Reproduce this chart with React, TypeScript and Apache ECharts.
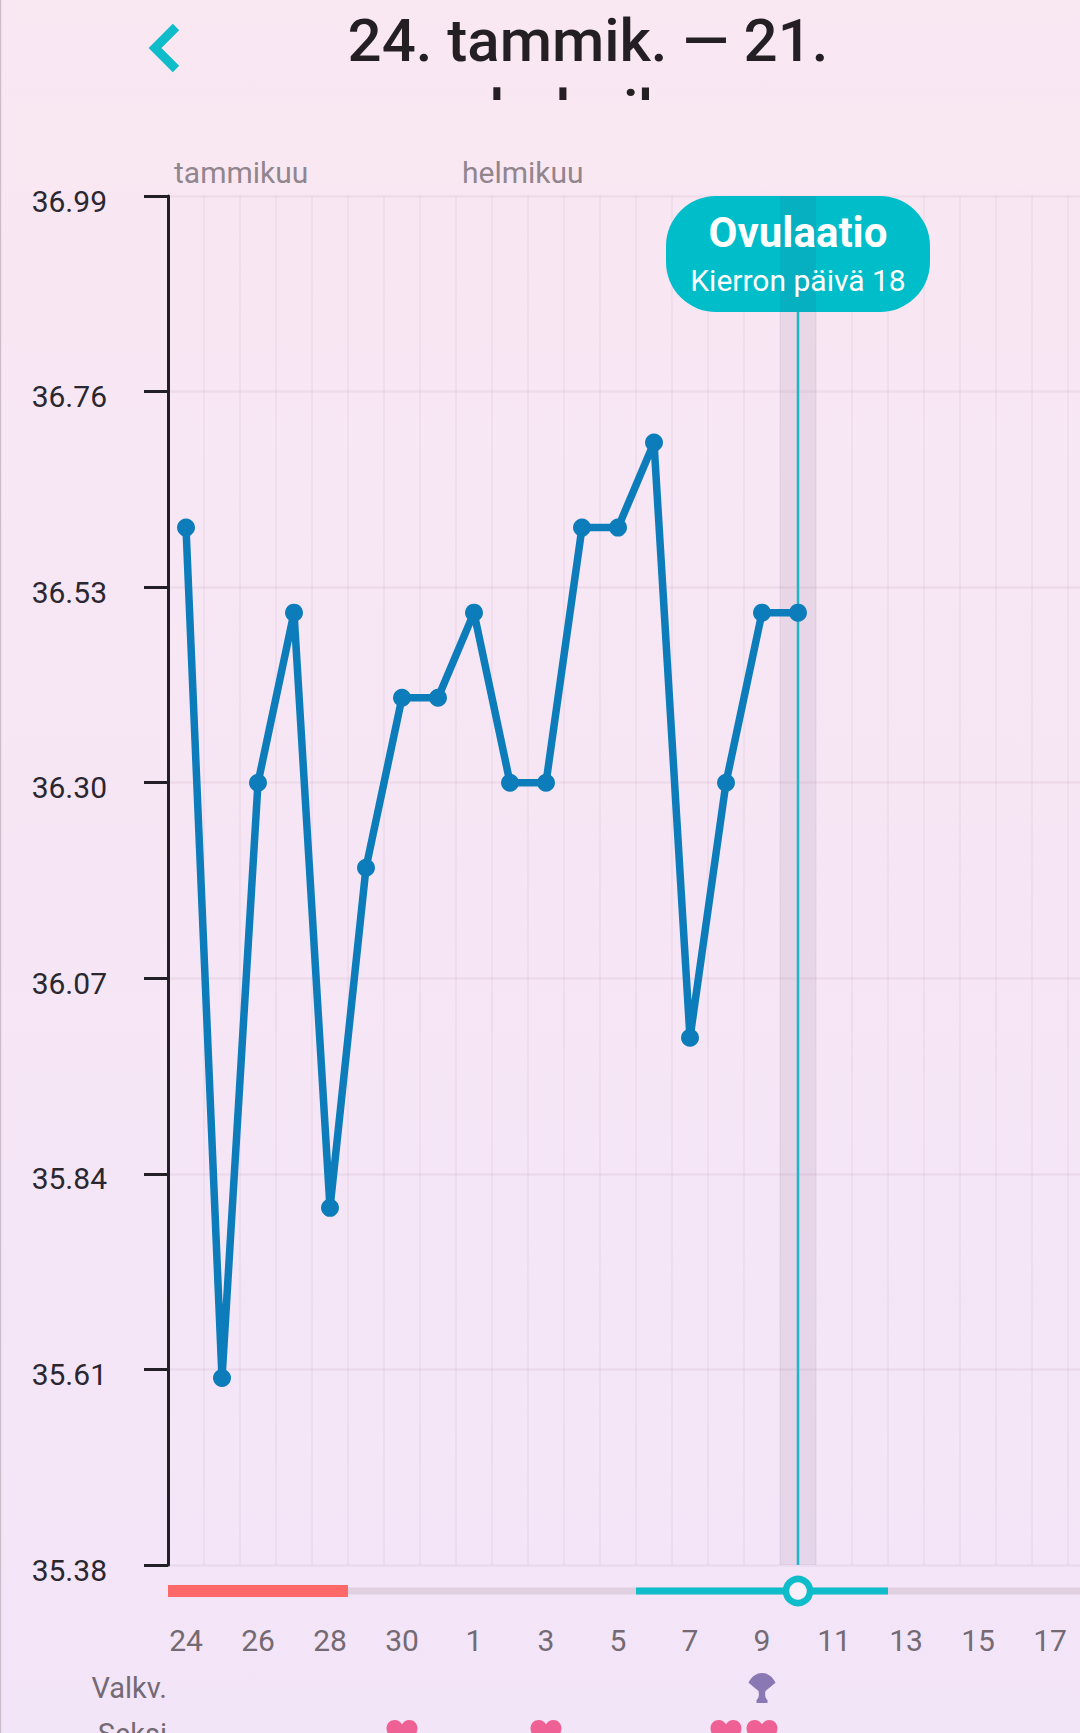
import React, { useEffect, useRef } from "react";
import * as echarts from "echarts";

const dayLabels = ["24","25","26","27","28","29","30","31","1","2","3","4","5","6","7","8","9","10","11","12","13","14","15","16","17","18"];
const temperatures = [36.6,35.6,36.3,36.5,35.8,36.2,36.4,36.4,36.5,36.3,36.3,36.6,36.6,36.7,36.0,36.3,36.5,36.5];
const yTicks = [35.38,35.61,35.84,36.07,36.3,36.53,36.76,36.99];
const monthStarts = [0, 8];
const monthNames = ["tammikuu", "helmikuu"];
const periodRange = [0, 5];
const fertileRange = [13, 20];
const ovulationDay = 17;
const mucusDays = [16];
const sexDays = [6, 10, 15, 16];
const rowLabels = ["Valkv.", "Seksi"];
const titleText = "24. tammik. — 21.\nhelmik.";
const badgeTitle = "Ovulaatio";
const badgeSub = "Kierron päivä 18";

const FONT = "Roboto";
const TEAL = "#0fbdca";
const GREY_TEXT = "#746a73";
const heart = "path://M12 21.6C5 16 1 12 1 7.5 1 4 3.7 1.5 6.8 1.5c2.1 0 4 1.1 5.2 3 1.2-1.9 3.1-3 5.2-3C20.3 1.5 23 4 23 7.5c0 4.5-4 8.5-11 14.1z";
const fan = "path://M0 10C6-3 21-3 27 10L17 18C16 22 17 26 19 27L19 30 8 30 8 27C10 26 11 22 10 18Z";

export default function App() {
  const ref = useRef<HTMLDivElement>(null);
  useEffect(() => {
    document.body.style.margin = "0";
    const chart = echarts.init(ref.current!, undefined, { renderer: "svg" });
    const yMin = yTicks[0];
    const yMax = yTicks[yTicks.length - 1];
    const option: any = {
      animation: false,
      grid: [
        { left: 168, top: 196, width: 936, height: 1369 },
        { left: 168, top: 1665, width: 936, height: 92 },
      ],
      xAxis: [
        {
          type: "category", gridIndex: 0, data: dayLabels, boundaryGap: true,
          axisLine: { show: false }, axisTick: { show: false },
          axisLabel: { interval: 1, margin: 60, fontFamily: FONT, fontSize: 30, color: GREY_TEXT },
          splitLine: { show: true, interval: 0, lineStyle: { color: "rgba(120,70,110,0.055)", width: 2 } },
        },
        {
          type: "category", gridIndex: 1, data: dayLabels, boundaryGap: true,
          axisLine: { show: false }, axisTick: { show: false }, axisLabel: { show: false }, splitLine: { show: false },
        },
      ],
      yAxis: [
        {
          type: "value", gridIndex: 0, min: yMin, max: yMax,
          axisLine: { show: true, lineStyle: { color: "#231f26", width: 3 } },
          axisTick: { show: true, length: 24, customValues: yTicks, lineStyle: { color: "#231f26", width: 3 } },
          axisLabel: {
            customValues: yTicks, margin: 61, fontFamily: FONT, fontSize: 30, color: "#2b2730",
            verticalAlign: "top", lineHeight: 10, formatter: (v: number) => v.toFixed(2),
          },
          splitLine: { show: true, lineStyle: { color: "rgba(120,70,110,0.065)", width: 2.5 } },
        },
        {
          type: "category", gridIndex: 1, data: rowLabels, inverse: true,
          axisLine: { show: false }, axisTick: { show: false }, splitLine: { show: false },
          axisLabel: { margin: 1, fontFamily: FONT, fontSize: 29, color: GREY_TEXT },
        },
      ],
      graphic: [
        { type: "text", z: 0, style: { text: titleText, x: 588, y: 5, textAlign: "center", font: `500 60px ${FONT}`, lineHeight: 71, fill: "#231f22" } },
        { type: "rect", z: 0, shape: { x: 0, y: 100, width: 1080, height: 90 }, style: { fill: "#f9e7f2" } },
        { type: "rect", z: 1, shape: { x: 0, y: 0, width: 1.2, height: 1733 }, style: { fill: "#cdbcc9" } },
        { type: "polyline", z: 1, shape: { points: [[176, 27], [155, 48], [176, 69]] }, style: { stroke: TEAL, lineWidth: 9, fill: "none", lineJoin: "miter" } },
      ],
      series: [
        {
          type: "custom", xAxisIndex: 0, yAxisIndex: 0, z: 1, clip: false, silent: true,
          data: [[periodRange[0], periodRange[1], fertileRange[0], fertileRange[1]]],
          encode: { x: 0, y: -1 },
          renderItem: (_p: any, api: any) => {
            const bw = api.size([1, 0])[0];
            const left = (i: number) => api.coord([i, yMin])[0] - bw / 2;
            const y = api.coord([0, yMin])[1] + 26;
            const x0 = left(0);
            const bar = (a: number, b: number, h: number, fill: string) => ({
              type: "rect", shape: { x: left(a), y: y - h / 2, width: left(b) - left(a), height: h }, style: { fill },
            });
            return {
              type: "group",
              children: [
                { type: "rect", shape: { x: x0, y: y - 3.5, width: 936, height: 7 }, style: { fill: "#dfcfe0" } },
                bar(api.value(0), api.value(1), 12, "#ff6868"),
                bar(api.value(2), api.value(3), 7, TEAL),
              ],
            };
          },
        },
        {
          type: "custom", xAxisIndex: 0, yAxisIndex: 0, z: 3, clip: false, silent: true,
          data: [[ovulationDay, yMax]],
          encode: { x: 0, y: 1 },
          renderItem: (_p: any, api: any) => {
            const day = api.value(0);
            const cx = api.coord([day, yMax])[0];
            const top = api.coord([day, yMax])[1];
            const bottom = api.coord([day, yMin])[1];
            const bw = api.size([1, 0])[0];
            const bh = 116;
            return {
              type: "group",
              children: [
                { type: "rect", shape: { x: cx - 132, y: top, width: 264, height: bh, r: 50 }, style: { fill: "#00bdca" } },
                { type: "rect", shape: { x: cx - bw / 2, y: top, width: bw, height: bottom - top }, style: { fill: "rgba(80,50,90,0.085)" } },
                { type: "line", shape: { x1: cx, y1: top + bh, x2: cx, y2: bottom }, style: { stroke: "#1cb6c6", lineWidth: 2.5 } },
                { type: "text", style: { text: badgeTitle, x: cx, y: top + 36, textAlign: "center", textVerticalAlign: "middle", font: `700 42px ${FONT}`, fill: "#ffffff" } },
                { type: "text", style: { text: badgeSub, x: cx, y: top + 84, textAlign: "center", textVerticalAlign: "middle", font: `400 30px ${FONT}`, fill: "#ffffff" } },
                { type: "circle", shape: { cx, cy: bottom + 26, r: 12 }, style: { fill: "#f7f0fa", stroke: TEAL, lineWidth: 6.5 } },
              ],
            };
          },
        },
        {
          name: "Lämpötila", type: "line", xAxisIndex: 0, yAxisIndex: 0, z: 4, data: temperatures,
          symbol: "circle", symbolSize: 18, showSymbol: true, smooth: false, clip: false,
          lineStyle: { color: "#0c7cba", width: 7.5, join: "round" },
          itemStyle: { color: "#0c7cba" },
        },
        {
          type: "scatter", xAxisIndex: 0, yAxisIndex: 0, z: 2, symbolSize: 0, clip: false,
          data: monthStarts.map((d) => [d, yMax]),
          label: {
            show: true, position: "top", align: "left", offset: [-12, -4],
            fontFamily: FONT, fontSize: 30, color: GREY_TEXT,
            formatter: (p: any) => monthNames[p.dataIndex],
          },
        },
        {
          type: "scatter", xAxisIndex: 1, yAxisIndex: 1, z: 2, clip: false,
          symbol: fan, symbolSize: [27, 30], itemStyle: { color: "#8a78b4", opacity: 1 },
          data: mucusDays.map((d) => [d, 0]),
        },
        {
          type: "scatter", xAxisIndex: 1, yAxisIndex: 1, z: 2, clip: false,
          symbol: heart, symbolSize: [31, 28], itemStyle: { color: "#ef6194", opacity: 1 },
          data: sexDays.map((d) => [d, 1]),
        },
      ],
    };
    chart.setOption(option);
    return () => chart.dispose();
  }, []);
  return (
    <div style={{ position: "absolute", left: 0, top: 0, width: 1080, height: 1733, overflow: "hidden", background: "linear-gradient(180deg,#f9e7f2,#f3e5f8)" }}>
      <div ref={ref} style={{ width: 1200, height: 1800 }} />
    </div>
  );
}
